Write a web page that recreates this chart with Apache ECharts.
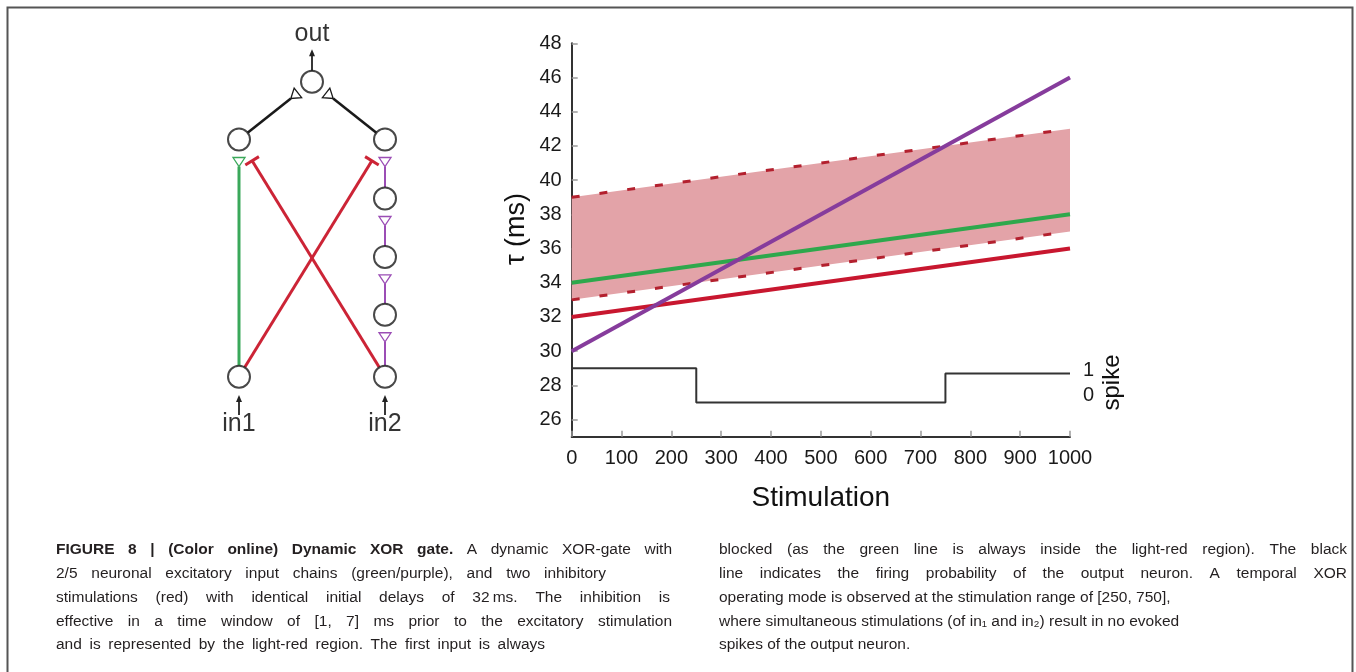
<!DOCTYPE html>
<html><head><meta charset="utf-8">
<script src="https://cdn.jsdelivr.net/npm/echarts@6/dist/echarts.min.js"></script>
<style>html,body{margin:0;padding:0;background:#fff}#c{width:1356px;height:672px}</style>
</head><body><div id="c"></div>
<script>
// ---------------- chart data ----------------
const stimulation = [0, 1000];
const purpleChain = [30, 46];       // 5-neuron excitatory chain delay
const greenChain = [34, 38];        // 2-neuron excitatory chain delay
const inhibition = [32, 36];        // inhibitory delay
const windowLower = [33, 37];       // light-red window lower bound
const windowUpper = [39, 43];       // light-red window upper bound
const spikeX = [0, 250, 250, 750, 750, 1000];
const spikeTau = [29, 29, 27, 27, 28.7, 28.7];
const tauTicks = [26, 28, 30, 32, 34, 36, 38, 40, 42, 44, 46, 48];
const stimTicks = [0, 100, 200, 300, 400, 500, 600, 700, 800, 900, 1000];
const spikeTicks = [0, 1];

// ---------------- diagram data ----------------
const neuronNames = ['out', 'a', 'b', 'c3', 'c2', 'c1', 'in1', 'in2'];
const neuronX = [0.5, 0, 1, 1, 1, 1, 0, 1];
const neuronY = [5, 4.02, 4.02, 3.02, 2.03, 1.05, 0, 0];
const synFrom = ['a', 'b', 'in1', 'in2', 'c1', 'c2', 'c3', 'in1', 'in2'];
const synTo = ['out', 'out', 'a', 'c1', 'c2', 'c3', 'b', 'b', 'a'];
const synKind = ['exc', 'exc', 'exc', 'exc', 'exc', 'exc', 'exc', 'inh', 'inh'];
const synColor = ['#1a1a1a', '#1a1a1a', '#3aa85a', '#9b4db5', '#9b4db5', '#9b4db5', '#9b4db5', '#cc2436', '#cc2436'];
const ioArrowX = [0.5, 0, 1];
const ioArrowFrom = [5.17, -0.65, -0.65];
const ioArrowTo = [5.55, -0.31, -0.31];
const ioLabelX = [0.5, 0, 1];
const ioLabelY = [5.8, -0.8, -0.8];
const ioLabelText = ['out', 'in1', 'in2'];

// ---------------- caption text ----------------
const captionLeft = [
  [['FIGURE 8 | (Color online) Dynamic XOR gate.', true], ['A dynamic XOR-gate with', false]],
  [['2/5 neuronal excitatory input chains (green/purple), and two inhibitory', false]],
  [['stimulations (red) with identical initial delays of 32\u2009ms. The inhibition is', false]],
  [['effective in a time window of [1, 7] ms prior to the excitatory stimulation', false]],
  [['and is represented by the light-red region. The first input is always', false]]
];
const captionRight = [
  [['blocked (as the green line is always inside the light-red region). The black', false]],
  [['line indicates the firing probability of the output neuron. A temporal XOR', false]],
  [['operating mode is observed at the stimulation range of [250, 750],', false]],
  [['where simultaneous stimulations (of in\u2081 and in\u2082) result in no evoked', false]],
  [['spikes of the output neuron.', false]]
];
// right end of each line (null = natural spacing)
const captionLeftEnds = [672, 606, 670, 672, 545];
const captionRightEnds = [1347, 1347, 1165, null, null];

// ---------------- helpers ----------------
const FONT = '"Liberation Sans", Arial, sans-serif';
const CAP_FONT = FONT;
const CAP_SIZE = 15.5;
const ctx = document.createElement('canvas').getContext('2d');
function measure(t, bold) { ctx.font = (bold ? 'bold ' : '') + CAP_SIZE + 'px ' + CAP_FONT; return ctx.measureText(t).width; }
function captionLine(parts, x0, x1, y) {
  const words = [];
  parts.forEach(p => p[0].split(' ').forEach(w => words.push({t: w, b: p[1]})));
  const ws = words.map(w => measure(w.t, w.b));
  const total = ws.reduce((a, b) => a + b, 0);
  const space = measure(' ', false);
  let gap = space;
  if (x1 != null && words.length > 1) gap = Math.max(space, (x1 - x0 - total) / (words.length - 1));
  let x = x0;
  return words.map((w, i) => {
    const el = {type: 'text', x: x, y: y, silent: true,
      style: {text: w.t, fontSize: CAP_SIZE, fontFamily: CAP_FONT, fontWeight: w.b ? 'bold' : 'normal', fill: '#231f20', verticalAlign: 'middle'}};
    x += ws[i] + gap;
    return el;
  });
}
let captionEls = [];
const capY0 = 550, capDY = 23.8;
captionLeft.forEach((l, i) => { captionEls = captionEls.concat(captionLine(l, 56, captionLeftEnds[i], capY0 + i * capDY)); });
captionRight.forEach((l, i) => { captionEls = captionEls.concat(captionLine(l, 719, captionRightEnds[i], capY0 + i * capDY)); });

const nodeIndex = {};
neuronNames.forEach((n, i) => nodeIndex[n] = i);

function synapseItem(params, api) {
  const i = params.dataIndex;
  const f = nodeIndex[synFrom[i]], t = nodeIndex[synTo[i]];
  const p1 = api.coord([neuronX[f], neuronY[f]]);
  const p2 = api.coord([neuronX[t], neuronY[t]]);
  const dx = p2[0] - p1[0], dy = p2[1] - p1[1], L = Math.hypot(dx, dy);
  const ux = dx / L, uy = dy / L, nx = -uy, ny = ux;
  const R = 11;
  const s = [p1[0] + ux * R, p1[1] + uy * R];
  const col = synColor[i];
  if (synKind[i] === 'exc') {
    const baseD = R + 7, h = 9, w = 12;
    const base = [p2[0] - ux * baseD, p2[1] - uy * baseD];
    const apex = [p2[0] - ux * (baseD + h), p2[1] - uy * (baseD + h)];
    const lw = col === '#9b4db5' ? 2 : (col === '#1a1a1a' ? 2.6 : 3);
    return {type: 'group', children: [
      {type: 'line', shape: {x1: s[0], y1: s[1], x2: apex[0], y2: apex[1]}, style: {stroke: col, lineWidth: lw}},
      {type: 'polygon', shape: {points: [[base[0] + nx * w / 2, base[1] + ny * w / 2], [base[0] - nx * w / 2, base[1] - ny * w / 2], apex]},
        style: {fill: '#fff', stroke: col, lineWidth: 1.3}}
    ]};
  }
  const barD = R + 14, w = 16;
  const b = [p2[0] - ux * barD, p2[1] - uy * barD];
  return {type: 'group', children: [
    {type: 'line', shape: {x1: s[0], y1: s[1], x2: b[0], y2: b[1]}, style: {stroke: col, lineWidth: 3}},
    {type: 'line', shape: {x1: b[0] + nx * w / 2, y1: b[1] + ny * w / 2, x2: b[0] - nx * w / 2, y2: b[1] - ny * w / 2}, style: {stroke: col, lineWidth: 3}}
  ]};
}
function ioArrowItem(params, api) {
  const i = params.dataIndex;
  const a = api.coord([ioArrowX[i], ioArrowFrom[i]]);
  const b = api.coord([ioArrowX[i], ioArrowTo[i]]);
  const dir = b[1] < a[1] ? -1 : 1;
  return {type: 'group', children: [
    {type: 'line', shape: {x1: a[0], y1: a[1], x2: b[0], y2: b[1] - dir * 4}, style: {stroke: '#222', lineWidth: 1.8}},
    {type: 'polygon', shape: {points: [[b[0], b[1]], [b[0] - 3, b[1] - dir * 7], [b[0] + 3, b[1] - dir * 7]]}, style: {fill: '#222'}}
  ]};
}
function bandItem(params, api) {
  const pts = [];
  for (let i = 0; i < stimulation.length; i++) pts.push(api.coord([stimulation[i], windowUpper[i]]));
  for (let i = stimulation.length - 1; i >= 0; i--) pts.push(api.coord([stimulation[i], windowLower[i]]));
  return {type: 'polygon', shape: {points: pts}, style: {fill: '#e3a3a8'}};
}
const pairs = (xs, ys) => xs.map((x, i) => [x, ys[i]]);

const option = {
  animation: false,
  backgroundColor: '#fff',
  textStyle: {fontFamily: FONT},
  grid: [
    {left: 571.7, right: 286, top: 43.3, bottom: 235.3},
    {left: 571.7, right: 286, top: 357.5, height: 50},
    {left: 166, width: 292, top: 22.7, height: 413}
  ],
  xAxis: [
    {gridIndex: 0, type: 'value', min: 0, max: 1000, interval: 100,
      axisLine: {onZero: false, lineStyle: {color: '#333', width: 2}},
      axisTick: {inside: true, length: 6, lineStyle: {color: '#9a9a9a', width: 1.5}},
      axisLabel: {fontSize: 20, color: '#1a1a1a', margin: 12, customValues: stimTicks, formatter: v => String(v)},
      splitLine: {show: false},
      name: 'Stimulation', nameLocation: 'middle', nameGap: 48, nameTextStyle: {fontSize: 28, color: '#111'}},
    {gridIndex: 1, type: 'value', min: 0, max: 1000, show: false},
    {gridIndex: 2, type: 'value', min: -0.5, max: 1.5, show: false}
  ],
  yAxis: [
    {gridIndex: 0, type: 'value', min: 25, max: 48,
      axisLine: {show: true, onZero: false, lineStyle: {color: '#333', width: 2}},
      axisTick: {show: true, inside: true, length: 6, customValues: tauTicks, lineStyle: {color: '#9a9a9a', width: 1.5}},
      axisLabel: {fontSize: 20, color: '#1a1a1a', margin: 10, customValues: tauTicks, formatter: v => String(v)},
      splitLine: {show: false},
      name: '\u03c4 (ms)', nameLocation: 'middle', nameRotate: 90, nameGap: 42,
      nameTextStyle: {fontSize: 27, color: '#111', padding: [0, 0, 0, 22]}},
    {gridIndex: 1, type: 'value', min: -0.5, max: 1.5, position: 'right',
      axisLine: {show: false}, axisTick: {show: false}, splitLine: {show: false},
      axisLabel: {fontSize: 20, color: '#1a1a1a', margin: 13, customValues: spikeTicks, formatter: v => String(v)},
      name: 'spike', nameLocation: 'middle', nameRotate: 90, nameGap: 30,
      nameTextStyle: {fontSize: 24, color: '#111'}},
    {gridIndex: 2, type: 'value', min: -1, max: 6, show: false}
  ],
  graphic: [
    {type: 'rect', shape: {x: 7.5, y: 7.5, width: 1345, height: 700}, style: {fill: 'none', stroke: '#555', lineWidth: 2}, silent: true, z: 0}
  ].concat(captionEls),
  series: [
    {type: 'custom', xAxisIndex: 0, yAxisIndex: 0, renderItem: bandItem, data: [[0, windowLower[0]]], silent: true, z: 1},
    {type: 'line', xAxisIndex: 0, yAxisIndex: 0, data: pairs(stimulation, windowUpper), symbol: 'none', z: 2,
      lineStyle: {color: '#b3202e', width: 3, type: [8, 20]}},
    {type: 'line', xAxisIndex: 0, yAxisIndex: 0, data: pairs(stimulation, windowLower), symbol: 'none', z: 2,
      lineStyle: {color: '#b3202e', width: 3, type: [8, 20]}},
    {type: 'line', xAxisIndex: 0, yAxisIndex: 0, data: pairs(stimulation, inhibition), symbol: 'none', z: 3,
      lineStyle: {color: '#c8172f', width: 4}},
    {type: 'line', xAxisIndex: 0, yAxisIndex: 0, data: pairs(stimulation, greenChain), symbol: 'none', z: 4,
      lineStyle: {color: '#2ea84c', width: 4}},
    {type: 'line', xAxisIndex: 0, yAxisIndex: 0, data: pairs(stimulation, purpleChain), symbol: 'none', z: 5,
      lineStyle: {color: '#863c9c', width: 4}},
    {type: 'line', xAxisIndex: 0, yAxisIndex: 0, data: pairs(spikeX, spikeTau), symbol: 'none', z: 3,
      lineStyle: {color: '#333', width: 2}},
    {type: 'custom', xAxisIndex: 2, yAxisIndex: 2, renderItem: synapseItem, silent: true, z: 3,
      data: synFrom.map(f => [neuronX[nodeIndex[f]], neuronY[nodeIndex[f]]])},
    {type: 'custom', xAxisIndex: 2, yAxisIndex: 2, renderItem: ioArrowItem, silent: true, z: 3,
      data: ioArrowX.map((x, i) => [x, ioArrowFrom[i]])},
    {type: 'scatter', xAxisIndex: 2, yAxisIndex: 2, symbol: 'circle', symbolSize: 22, silent: true, z: 6, clip: false,
      itemStyle: {color: '#fff', borderColor: '#1a1a1a', borderWidth: 2},
      data: neuronX.map((x, i) => [x, neuronY[i]])},
    {type: 'scatter', xAxisIndex: 2, yAxisIndex: 2, symbolSize: 1, silent: true, z: 6, clip: false,
      itemStyle: {color: 'rgba(0,0,0,0)'},
      label: {show: true, position: 'inside', fontSize: 25, color: '#000', formatter: p => ioLabelText[p.dataIndex]},
      data: ioLabelX.map((x, i) => [x, ioLabelY[i]])}
  ]
};
const chart = echarts.init(document.getElementById('c'), null, {renderer: 'canvas'});
chart.setOption(option);
</script></body></html>
